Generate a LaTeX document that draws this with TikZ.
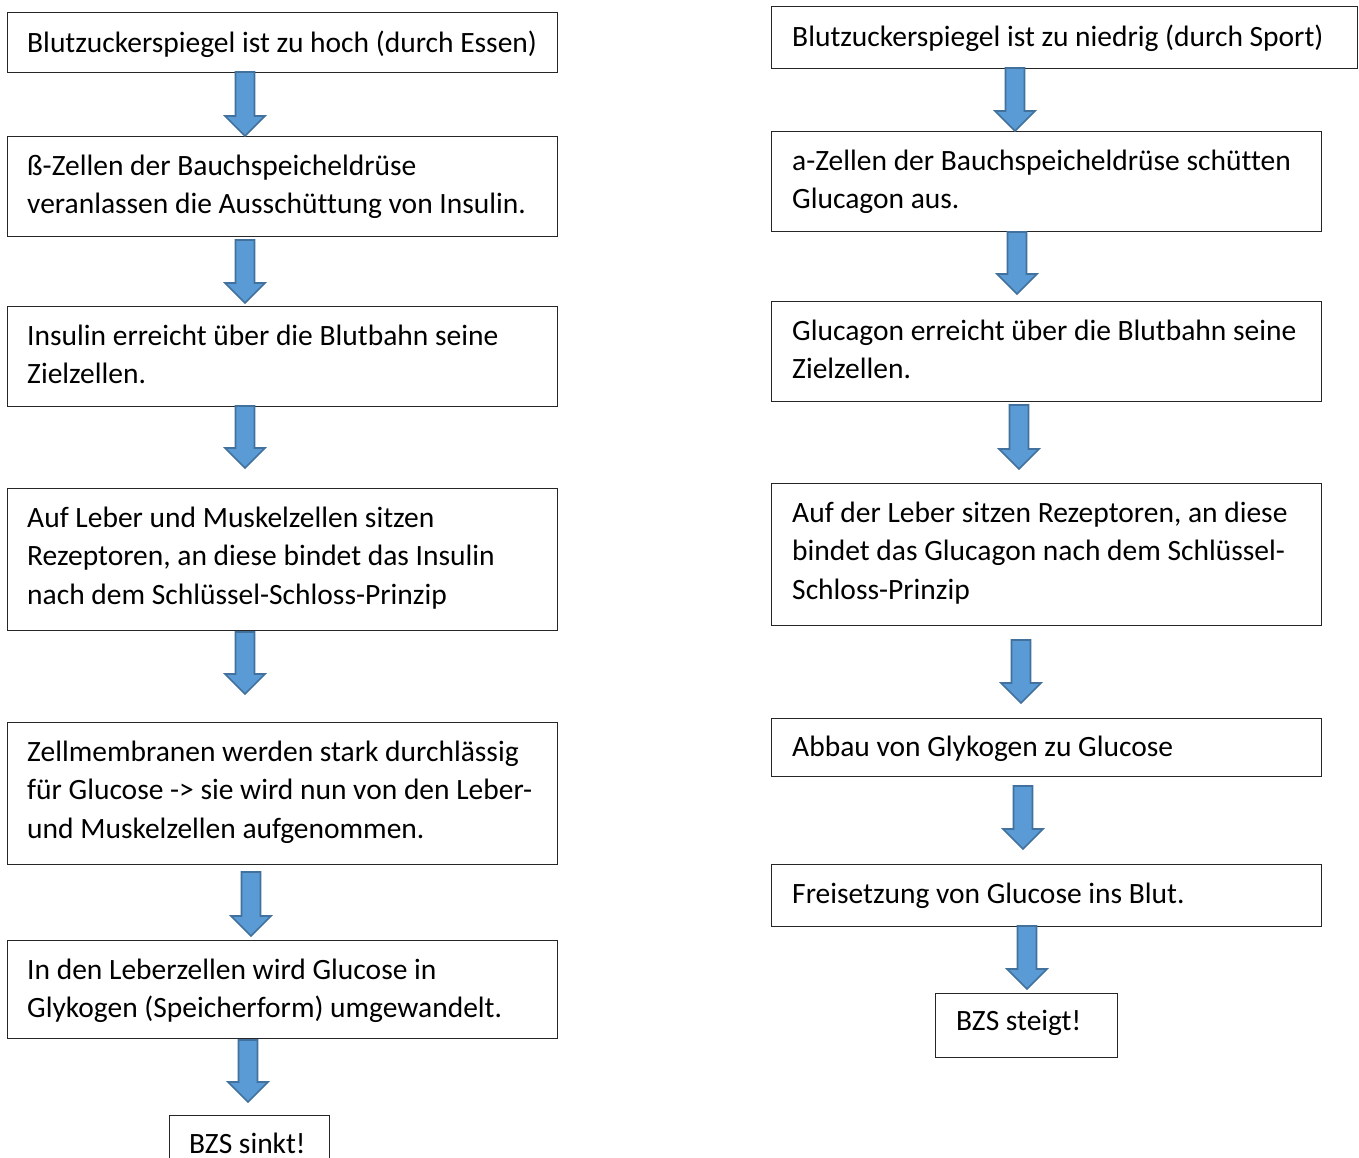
\documentclass[tikz,border=0pt]{standalone}
\usepackage{fontspec}
\setmainfont{Carlito}[Ligatures=NoCommon]
\definecolor{arrowfill}{HTML}{5B9BD5}
\definecolor{arrowline}{HTML}{41719C}
\tikzset{
  box/.style={draw=black!85, line width=1.1pt, anchor=north west, inner sep=0pt, fill=white},
  txt/.style={anchor=north west, inner sep=0pt, align=left, font=\fontsize{29.5}{38.6}\selectfont, text=black},
  blockarrowstyle/.style={fill=arrowfill, draw=arrowline, line width=1.6pt, line join=miter}
}
% #1 = x centre, #2 = top y, #3 = tip y
\newcommand\myblockarrow[3]{%
  \draw[blockarrowstyle] (#1-9.5,#2) -- (#1+9.5,#2) -- (#1+9.5,#3-20) -- (#1+20,#3-20)
    -- (#1,#3) -- (#1-20,#3-20) -- (#1-9.5,#3-20) -- cycle;}
\newcommand\firstline{\rule{0pt}{25pt}}
\begin{document}
\begin{tikzpicture}[x=1pt,y=-1pt]
\clip (0,0) rectangle (1359,1158);
\fill[white] (0,0) rectangle (1359,1158);
% ---------- left column ----------
\node[box, minimum width=550pt, minimum height=60pt] (L1) at (7,12) {};
\node[txt] (T1) at (27,27) {\firstline Blutzuckerspiegel ist zu hoch (durch Essen)};
\node[box, minimum width=550pt, minimum height=100pt] (L2) at (7,136) {};
\node[txt] (T2) at (27,150) {\firstline ß-Zellen der Bauchspeicheldrüse\\veranlassen die Ausschüttung von Insulin.};
\node[box, minimum width=550pt, minimum height=100pt] (L3) at (7,306) {};
\node[txt] (T3) at (27,320) {\firstline Insulin erreicht über die Blutbahn seine\\Zielzellen.};
\node[box, minimum width=550pt, minimum height=142pt] (L4) at (7,488) {};
\node[txt] (T4) at (27,502) {\firstline Auf Leber und Muskelzellen sitzen\\Rezeptoren, an diese bindet das Insulin\\nach dem Schlüssel-Schloss-Prinzip};
\node[box, minimum width=550pt, minimum height=142pt] (L5) at (7,722) {};
\node[txt] (T5) at (27,736) {\firstline Zellmembranen werden stark durchlässig\\für Glucose -> sie wird nun von den Leber-\\und Muskelzellen aufgenommen.};
\node[box, minimum width=550pt, minimum height=98pt] (L6) at (7,940) {};
\node[txt] (T6) at (27,954) {\firstline In den Leberzellen wird Glucose in\\Glykogen (Speicherform) umgewandelt.};
\node[box, minimum width=160pt, minimum height=64pt] (L7) at (169,1115) {};
\node[txt] (T7) at (189,1128) {\firstline BZS sinkt!};
\myblockarrow{245}{72}{136}
\myblockarrow{245}{240}{303}
\myblockarrow{245}{406}{468}
\myblockarrow{245}{632}{694}
\myblockarrow{251}{872}{936}
\myblockarrow{248}{1040}{1102}
% ---------- right column ----------
\node[box, minimum width=586pt, minimum height=62pt] (R1) at (771,6) {};
\node[txt] (U1) at (792,21) {\firstline Blutzuckerspiegel ist zu niedrig (durch Sport)};
\node[box, minimum width=550pt, minimum height=100pt] (R2) at (771,131) {};
\node[txt] (U2) at (792,145) {\firstline a-Zellen der Bauchspeicheldrüse schütten\\Glucagon aus.};
\node[box, minimum width=550pt, minimum height=100pt] (R3) at (771,301) {};
\node[txt] (U3) at (792,315) {\firstline Glucagon erreicht über die Blutbahn seine\\Zielzellen.};
\node[box, minimum width=550pt, minimum height=142pt] (R4) at (771,483) {};
\node[txt] (U4) at (792,497) {\firstline Auf der Leber sitzen Rezeptoren, an diese\\bindet das Glucagon nach dem Schlüssel-\\Schloss-Prinzip};
\node[box, minimum width=550pt, minimum height=58pt] (R5) at (771,718) {};
\node[txt] (U5) at (792,731) {\firstline Abbau von Glykogen zu Glucose};
\node[box, minimum width=550pt, minimum height=62pt] (R6) at (771,864) {};
\node[txt] (U6) at (792,878) {\firstline Freisetzung von Glucose ins Blut.};
\node[box, minimum width=182pt, minimum height=64pt] (R7) at (935,993) {};
\node[txt] (U7) at (956,1005) {\firstline BZS steigt!};
\myblockarrow{1015}{68}{131}
\myblockarrow{1017}{232}{294}
\myblockarrow{1019}{405}{469}
\myblockarrow{1021}{640}{703}
\myblockarrow{1023}{786}{849}
\myblockarrow{1027}{926}{989}
\end{tikzpicture}
\end{document}
